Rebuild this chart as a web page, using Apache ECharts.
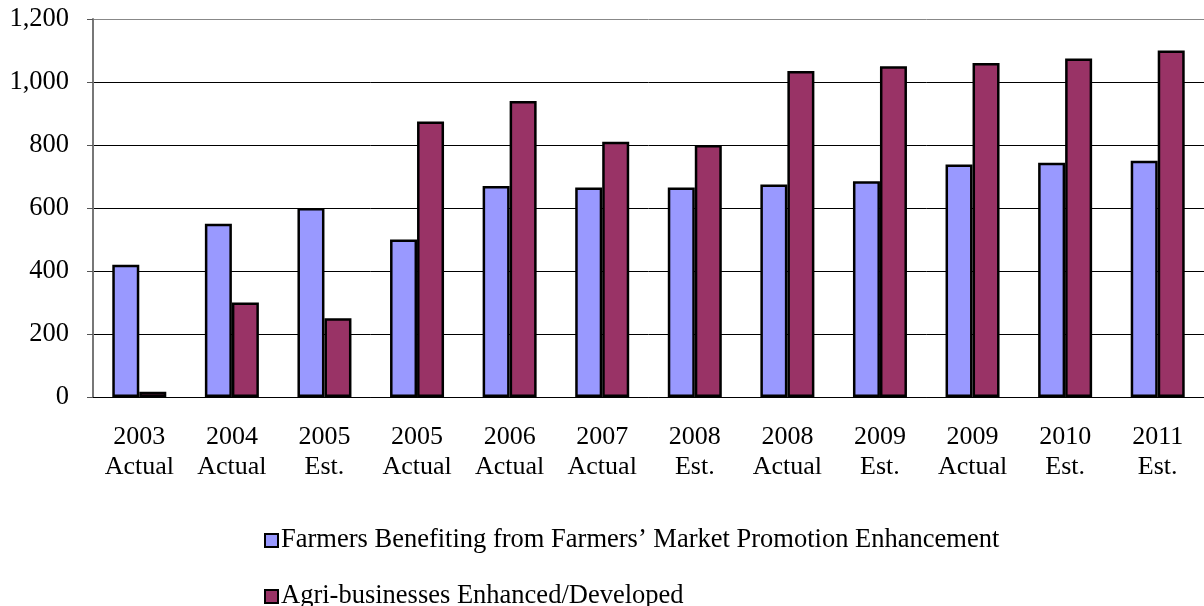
<!DOCTYPE html>
<html>
<head>
<meta charset="utf-8">
<script src="https://cdn.jsdelivr.net/npm/echarts@6/dist/echarts.min.js"></script>
<style>html,body{margin:0;padding:0;background:#fff;}#c{width:1204px;height:606px;}</style>
</head>
<body>
<div id="c"></div>
<script>
const categories = ['2003\nActual','2004\nActual','2005\nEst.','2005\nActual','2006\nActual','2007\nActual','2008\nEst.','2008\nActual','2009\nEst.','2009\nActual','2010\nEst.','2011\nEst.'];
const farmers = [420, 550, 600, 500, 670, 665, 665, 675, 685, 738, 744, 750];
const agri = [17, 300, 250, 875, 940, 810, 800, 1035, 1050, 1060, 1075, 1100];
const seriesNames = ['Farmers Benefiting from Farmers\u2019 Market Promotion Enhancement', 'Agri-businesses Enhanced/Developed'];

const font = '"Liberation Serif", "Times New Roman", serif';
const legendBase = {
  orient: 'vertical', left: 259, itemWidth: 13, itemHeight: 13, itemGap: 10,
  textStyle: { fontFamily: font, fontSize: 26.5, color: '#000', padding: [0,0,0,-2] }
};
const chart = echarts.init(document.getElementById('c'));
chart.setOption({
  animation: false,
  textStyle: { fontFamily: font },
  grid: { left: 93, right: -1, top: 19, bottom: 209 },
  legend: [
    Object.assign({}, legendBase, { top: 522,
      data: [{ name: seriesNames[0], icon: 'rect', itemStyle: { borderColor: '#000', borderWidth: 2 } }] }),
    Object.assign({}, legendBase, { top: 578,
      data: [{ name: seriesNames[1], icon: 'rect', itemStyle: { borderColor: '#000', borderWidth: 2 } }] })
  ],
  xAxis: {
    type: 'category', data: categories,
    axisLine: { lineStyle: { color: '#000', width: 1 } },
    axisTick: { length: 7, lineStyle: { color: '#555' } },
    axisLabel: { fontFamily: font, fontSize: 26, color: '#000', lineHeight: 30, margin: 25, interval: 0 }
  },
  yAxis: {
    type: 'value', min: 0, max: 1200, interval: 200,
    axisLine: { show: true, lineStyle: { color: '#777', width: 2 } },
    axisTick: { show: true, length: 6, lineStyle: { color: '#555' } },
    axisLabel: { fontFamily: font, fontSize: 26.5, color: '#000', margin: 24,
      formatter: v => v.toLocaleString('en-US') },
    splitLine: { lineStyle: { color: ['#000','#000','#000','#000','#000','#000','#888'], width: 1 } }
  },
  series: [
    { name: seriesNames[0], type: 'bar', data: farmers, barWidth: 27, barGap: '0%',
      itemStyle: { color: '#9999FF', borderColor: '#000', borderWidth: 2.5 } },
    { name: seriesNames[1], type: 'bar', data: agri, barWidth: 27,
      itemStyle: { color: '#993366', borderColor: '#000', borderWidth: 2.5 } }
  ]
});
</script>
</body>
</html>
